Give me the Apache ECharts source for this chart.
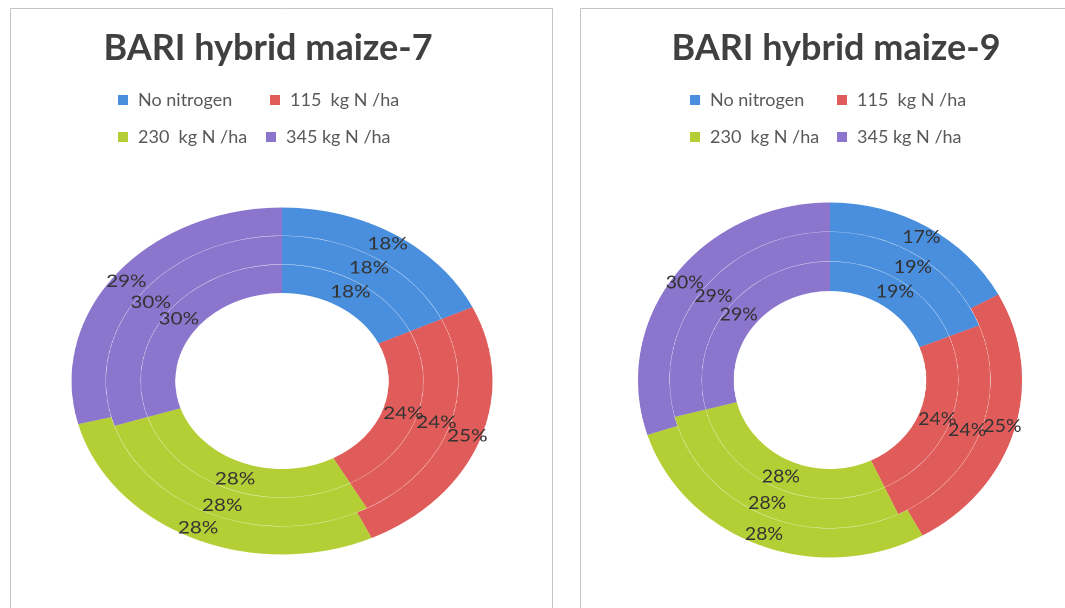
<!DOCTYPE html>
<html>
<head>
<meta charset="utf-8">
<script src="https://cdn.jsdelivr.net/npm/echarts@6/dist/echarts.min.js"></script>
<style>
  html, body { margin: 0; padding: 0; background: #fff; }
  #base { position: absolute; left: 0; top: 0; width: 1065px; height: 608px; }
  .ring { position: absolute; width: 360px; height: 360px; pointer-events: none; transform-origin: 50% 50%; }
  /* the source pies are drawn as ellipses, so stretch each one sideways */
  #pie7 { left: 102px; top: 201px; transform: scaleX(1.213); }
  #pie9 { left: 650px; top: 200px; transform: scaleX(1.082); }
</style>
</head>
<body>
<div id="base"></div>
<div id="pie7" class="ring"></div>
<div id="pie9" class="ring"></div>
<script>
const categories = ['No nitrogen', '115  kg N /ha', '230  kg N /ha', '345 kg N /ha'];
const colors = ['#4a8fdd', '#e05c5a', '#b4cf35', '#8c76cd'];

// BARI hybrid maize-7 (outer, middle, inner ring, %)
const maize7Outer = [18, 25, 28, 29];
const maize7Middle = [18, 24, 28, 30];
const maize7Inner = [18, 24, 28, 30];

// BARI hybrid maize-9
const maize9Outer = [17, 25, 28, 30];
const maize9Middle = [19, 24, 28, 29];
const maize9Inner = [19, 24, 28, 29];

const font = 'Lato, "Open Sans", sans-serif';

function toData(values) {
  return values.map((v, i) => ({ name: categories[i], value: v, itemStyle: { color: colors[i] } }));
}

// one legend per entry so the two columns line up like the original
function legendItem(name, left, top) {
  return {
    data: [name], left: left, top: top, padding: 0,
    icon: 'rect', itemWidth: 10, itemHeight: 10,
    selectedMode: false,
    textStyle: { color: '#595959', fontSize: 18, fontFamily: font, padding: [0, 0, 0, 5] }
  };
}

const base = echarts.init(document.getElementById('base'));
base.setOption({
  backgroundColor: '#fff',
  animation: false,
  title: [
    { text: 'BARI hybrid maize-7', left: 263, top: 25, textAlign: 'center',
      textStyle: { color: '#404040', fontSize: 36, fontWeight: 'bold', fontFamily: font } },
    { text: 'BARI hybrid maize-9', left: 831, top: 25, textAlign: 'center',
      textStyle: { color: '#404040', fontSize: 36, fontWeight: 'bold', fontFamily: font } }
  ],
  legend: [
    legendItem(categories[0], 118, 91),
    legendItem(categories[1], 270, 91),
    legendItem(categories[2], 118, 128),
    legendItem(categories[3], 266, 128),
    legendItem(categories[0], 690, 91),
    legendItem(categories[1], 837, 91),
    legendItem(categories[2], 690, 128),
    legendItem(categories[3], 837, 128)
  ],
  graphic: [
    { type: 'rect', shape: { x: 10.5, y: 8.5, width: 542, height: 640 }, silent: true,
      style: { fill: 'none', stroke: '#c4c4c4', lineWidth: 1 } },
    { type: 'rect', shape: { x: 580.5, y: 8.5, width: 540, height: 640 }, silent: true,
      style: { fill: 'none', stroke: '#c4c4c4', lineWidth: 1 } }
  ],
  // invisible holder so the legends have entries to show
  series: [{
    type: 'pie', radius: [0, 0], center: [-50, -50], silent: true,
    label: { show: false }, labelLine: { show: false },
    data: toData(maize7Outer)
  }]
});

function ring(values, inner, outer, size) {
  return {
    type: 'pie', radius: [inner, outer], center: ['50%', '50%'],
    startAngle: 90, clockwise: true, silent: true, avoidLabelOverlap: false,
    label: { show: true, position: 'inside', formatter: '{c}%', color: '#333', fontSize: size, fontFamily: font },
    labelLine: { show: false },
    labelLayout: { hideOverlap: false },
    emphasis: { disabled: true },
    data: toData(values)
  };
}

const pie7 = echarts.init(document.getElementById('pie7'), null, { devicePixelRatio: 2 });
pie7.setOption({
  animation: false,
  series: [
    ring(maize7Inner, 88, 116.4, 17),
    ring(maize7Middle, 116.7, 145.1, 17),
    ring(maize7Outer, 145.4, 173.5, 17)
  ]
});

const pie9 = echarts.init(document.getElementById('pie9'), null, { devicePixelRatio: 2 });
pie9.setOption({
  animation: false,
  series: [
    ring(maize9Inner, 89, 118.4, 18),
    ring(maize9Middle, 118.7, 148.1, 18),
    ring(maize9Outer, 148.4, 177.5, 18)
  ]
});
</script>
</body>
</html>
